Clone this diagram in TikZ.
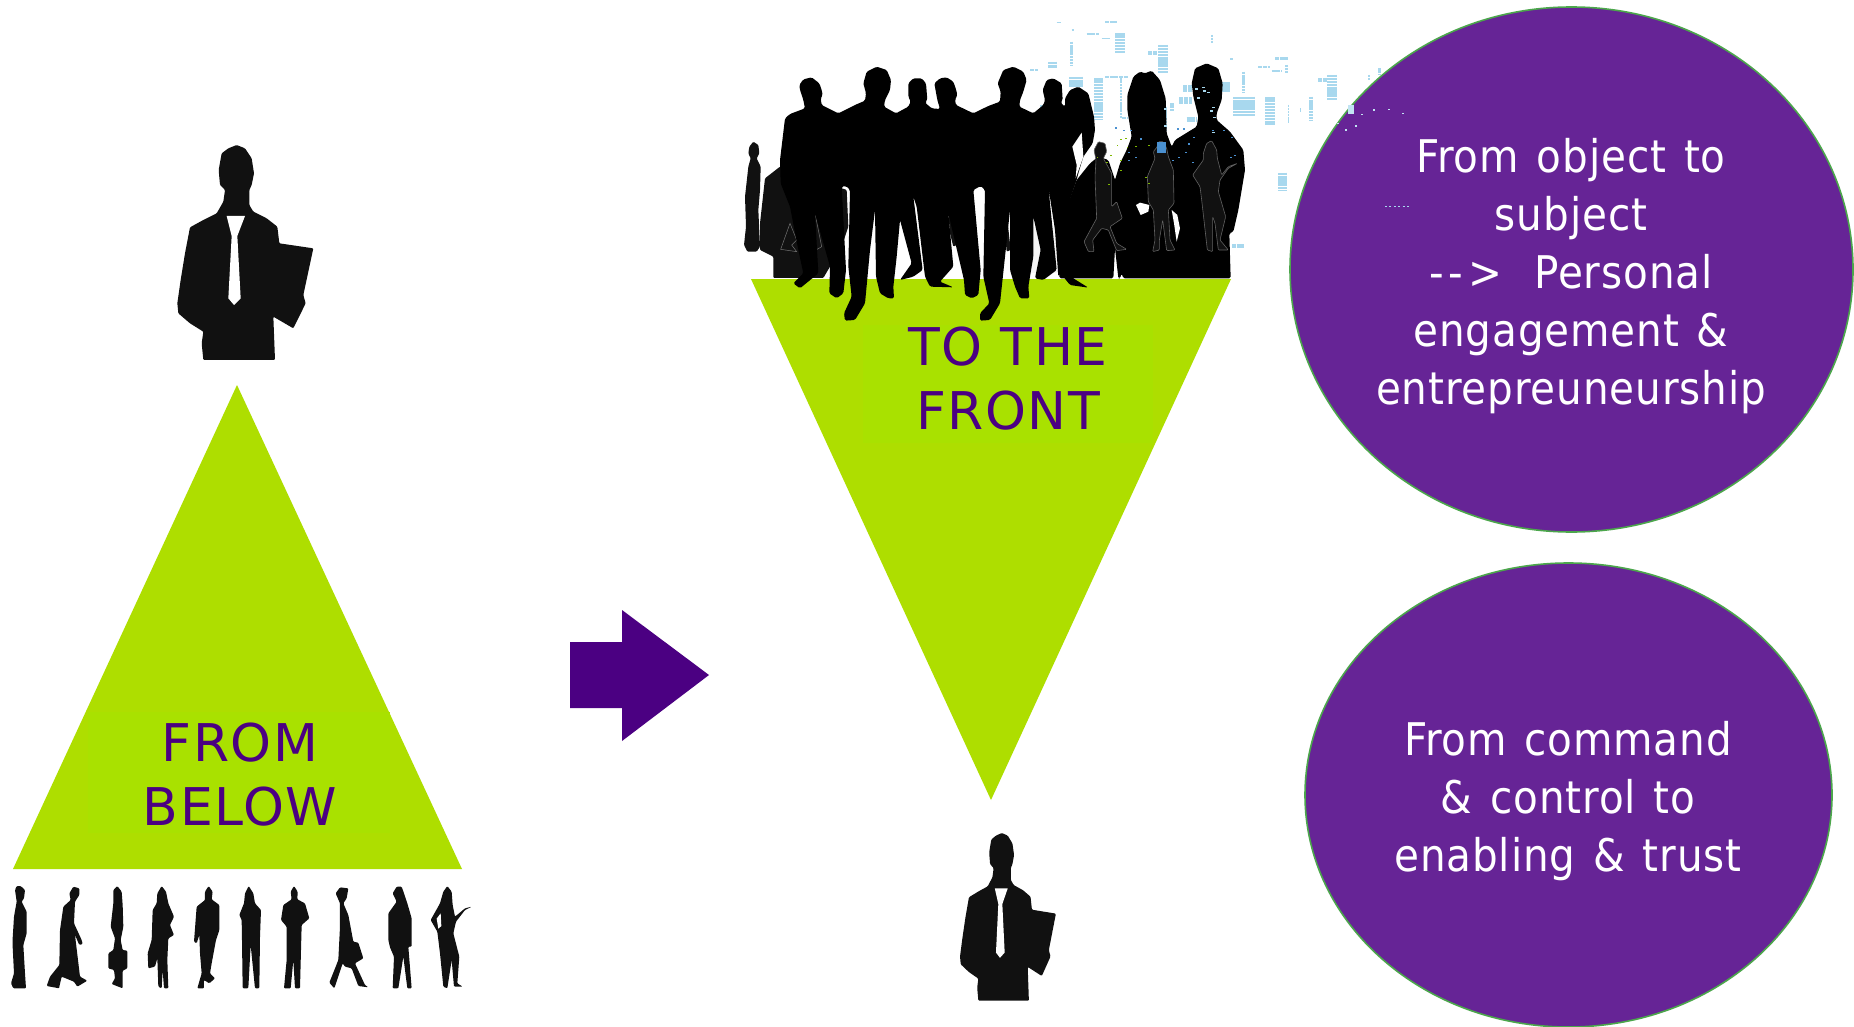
\documentclass[tikz,border=0pt]{standalone}
\usepackage{fontspec}
\setmainfont[LetterSpace=2,WordSpace=1.3]{DejaVu Sans Condensed}
\newfontfamily\trifont[LetterSpace=3]{DejaVu Sans}
\definecolor{limegreen}{HTML}{AEDE00}
\definecolor{limebox}{HTML}{A9E100}
\definecolor{deeppurple}{HTML}{4B0082}
\definecolor{circlepurple}{HTML}{662496}
\definecolor{circleedge}{HTML}{4CA64C}
\definecolor{silhouette}{HTML}{111111}
\definecolor{spkcol}{HTML}{A8D8EE}
\definecolor{spkblue}{HTML}{4A90D0}
\definecolor{spkgreen}{HTML}{7FB800}
\tikzset{
  figfill/.style={fill=silhouette,rounded corners=1pt},
  backblack/.style={fill=black,rounded corners=1.5pt},
  ghost/.style={fill=silhouette,draw=black!62,line width=0.6pt,rounded corners=1pt},
  triangle/.style={fill=limegreen},
  oval/.style={fill=circlepurple,draw=circleedge,line width=1.6pt},
  ovaltext/.style={text=white,align=center,font=\fontsize{45}{58}\selectfont},
  tritext/.style={text=deeppurple,align=center,font=\trifont\fontsize{52}{64}\selectfont},
  zoomsix/.style={shift={(740,50)},scale=1/3},
  zoomseven/.style={shift={(1020,10)},scale=1/3},
  zoomrow/.style={shift={(0,860)},scale=1/3}
}
\newcommand{\bizman}{%
  \fill[figfill] (130,690)--(125,640)--(130,605)--(90,580)--(55,550)--(52,520)--(62,450)--(75,370)--(90,292)--(130,270)--(170,250)--(190,215)--(195,180)--(180,165)--(176,120)--(185,70)--(205,55)--(230,45)--(255,55)--(275,85)--(282,130)--(275,165)--(268,180)--(268,225)--(280,245)--(320,265)--(352,290)--(358,340)--(460,355)--(430,495)--(437,520)--(400,595)--(340,560)--(345,690)--cycle;
  \fill[white] (200,258)--(255,258)--(232,318)--(242,505)--(222,525)--(205,505)--(215,318)--cycle;
}
\begin{document}
\begin{tikzpicture}[x=1pt,y=-1pt]
\useasboundingbox (0,0) rectangle (1854,1027);
\fill[white] (0,0) rectangle (1854,1027);

% background city speckle (zoom-7 coordinates)
\begin{scope}[zoomseven]
\foreach \xa/\ya/\xb/\yb in {110/37/122/40,255/32/290/40,155/58/162/62,200/70/238/76,245/83/270/86,630/145/640/150,765/142/805/150,715/168/750/175,755/180/785/185,895/205/920/215,255/197/325/205,307/320/325/328,490/225/515/245,478/262/515/282,605/215/630/245,636/702/672/714,500/320/530/335,385/122/410/136,30/178/55/184,60/285/80/300}{
  \draw[spkcol,line width={(\yb-\ya)/3},dash pattern=on 4pt off 0.7pt] (\xa,{(\ya+\yb)/2}) -- (\xb,{(\ya+\yb)/2});
}
\foreach \xa/\ya/\xb/\yb in {285/70/315/130,150/95/160/165,85/155/112/175,415/105/445/190,572/75/578/100,795/165/805/190,665/185/675/250,920/195/950/270,1045/195/1050/210,1075/175/1082/195,640/260/705/320,735/262/765/345,803/285/807/340,868/260/880/330,840/295/843/305,773/488/800/542,300/205/307/325,222/205/250/330,148/200/190/230,450/280/462/305,430/290/440/360}{
  \draw[spkcol,line width={(\xb-\xa)/3},dash pattern=on 2.2pt off 0.7pt] ({(\xa+\xb)/2},\ya) -- ({(\xa+\xb)/2},\yb);
}
\fill[black!4] (0,650) rectangle (130,790);
\end{scope}

% green triangles
\fill[triangle] (13,869)--(462,869)--(237,385)--cycle;
\fill[triangle] (751,279)--(1231,279)--(991,800)--cycle;
\fill[limebox] (88,712) rectangle (390,833);
\fill[limebox] (863,325) rectangle (1153,443);

% purple ovals
\draw[oval] (1571.5,269.5) ellipse [x radius=281.5,y radius=262.5];
\draw[oval] (1568.5,795) ellipse [x radius=263.5,y radius=232];

% back figures
\begin{scope}[zoomseven]
\fill[backblack] (170,510)--(210,460)--(235,440)--(265,450)--(285,510)--(300,460)--(320,420)--(335,380)--(322,300)--(322,255)--(340,200)--(360,185)--(375,190)--(395,182)--(420,210)--(437,265)--(440,370)--(455,410)--(465,390)--(530,350)--(535,320)--(520,260)--(515,220)--(525,175)--(560,160)--(595,175)--(608,220)--(605,270)--(590,310)--(590,330)--(630,365)--(670,420)--(675,480)--(655,600)--(640,665)--(628,670)--(632,805)--(310,805)--(305,790)--(300,805)--(295,805)--(285,715)--(280,805)--(118,805)--(122,640)--cycle;
\fill[white] (348,585)--(360,578)--(388,585)--(385,605)--(362,615)--cycle;
\fill[white] (455,600)--(472,615)--(480,655)--(470,695)--(462,640)--cycle;
\end{scope}
\begin{scope}[zoomsix]
\fill[figfill] (60,520)--(75,385)--(120,350)--(320,420)--(325,530)--(305,590)--(250,684)--(100,684)--(100,620)--(60,600)--cycle;
\draw[black!55,line width=0.5pt] (122,598)--(150,520)--(170,570)--(155,585)--(170,605)--cycle (225,490)--(245,590)--(228,600);
\fill[figfill] (28,290)--(40,275)--(55,285)--(58,310)--(50,325)--(62,350)--(60,420)--(55,480)--(60,590)--(50,605)--(22,605)--(12,585)--(18,530)--(15,440)--(25,350)--(32,325)--(25,310)--cycle;
\fill[figfill] (625,490)--(640,510)--(650,585)--(640,590)--(630,550)--cycle;
\fill[figfill] (800,490)--(812,600)--(800,605)--(795,550)--cycle;
% front group
\fill[backblack] (135,205)--(150,192)--(195,175)--(190,150)--(180,120)--(178,105)--(190,88)--(215,82)--(238,100)--(245,120)--(248,135)--(242,145)--(245,165)--(295,190)--(345,165)--(375,152)--(378,130)--(370,100)--(380,65)--(410,50)--(440,60)--(453,90)--(450,120)--(435,150)--(432,170)--(468,190)--(505,170)--(512,155)--(505,140)--(505,100)--(520,85)--(545,85)--(558,100)--(562,150)--(555,158)--(575,175)--(600,177)--(592,150)--(583,100)--(600,85)--(620,82)--(640,95)--(648,118)--(652,135)--(645,150)--(648,165)--(700,190)--(745,168)--(780,155)--(782,125)--(773,100)--(790,60)--(820,50)--(850,65)--(860,90)--(850,125)--(840,150)--(838,170)--(880,190)--(910,165)--(915,150)--(908,120)--(920,90)--(940,85)--(965,100)--(968,150)--(962,158)--(975,170)--(975,145)--(990,120)--(1015,110)--(1045,130)--(1062,200)--(1065,240)--(1058,280)--(1030,320)--(1015,370)--(1010,390)--(965,520)--(960,650)--(1000,685)--(1045,713)--(990,705)--(962,670)--(955,680)--(945,540)--(925,410)--(950,660)--(910,690)--(885,685)--(902,600)--(880,500)--(880,620)--(865,710)--(868,745)--(840,745)--(825,710)--(810,660)--(810,480)--(780,760)--(750,810)--(720,812)--(720,790)--(748,760)--(730,680)--(735,420)--(722,408)--(700,420)--(722,660)--(715,735)--(695,745)--(675,735)--(672,690)--(625,490)--(640,650)--(600,695)--(640,712)--(570,710)--(555,680)--(530,470)--(520,440)--(548,660)--(520,680)--(480,690)--(515,640)--(480,510)--(470,620)--(460,710)--(462,745)--(445,745)--(420,730)--(408,680)--(405,480)--(390,600)--(375,760)--(345,810)--(315,812)--(312,790)--(335,740)--(325,650)--(330,420)--(318,408)--(305,410)--(318,660)--(310,730)--(290,745)--(268,730)--(270,650)--(225,490)--(235,670)--(180,715)--(160,700)--(190,670)--(175,600)--(150,470)--(122,400)--(120,330)--cycle;
\end{scope}
\begin{scope}[zoomseven]
\fill[white] (185,368)--(157,410)--(170,465)--(167,505)--(190,440)--cycle;
% small grey figures
\filldraw[ghost] (222,420)--(235,395)--(255,400)--(260,425)--(250,445)--(275,490)--(275,590)--(290,575)--(307,625)--(270,650)--(290,700)--(320,718)--(290,722)--(265,660)--(245,655)--(218,690)--(222,725)--(205,725)--(192,695)--(230,625)--(225,500)--(228,450)--cycle;
\filldraw[ghost] (400,425)--(412,410)--(415,395)--(430,395)--(440,415)--(445,440)--(460,480)--(462,580)--(445,600)--(450,690)--(465,720)--(440,722)--(428,630)--(418,690)--(418,720)--(398,725)--(405,690)--(400,600)--(385,575)--(382,500)--(405,445)--cycle;
\filldraw[ghost] (550,430)--(560,400)--(575,392)--(590,420)--(592,445)--(605,495)--(625,470)--(652,460)--(625,475)--(600,510)--(595,545)--(617,620)--(600,690)--(625,720)--(595,720)--(585,640)--(578,620)--(578,725)--(562,720)--(545,570)--(540,530)--(518,495)--(550,450)--cycle;
% speckles over the figures
\fill[spkblue] (410,395) rectangle (438,430);
\foreach \px/\py in {285/352,310/360,330/360,360/385,325/425,325/450,455/450,475/440,495/425,505/400,520/380,575/360,610/360,632/380,630/440,642/435,515/455,345/440,470/355,490/355}{
  \fill[spkblue] (\px,\py) rectangle ++(6,4);
}
\foreach \px/\py in {525/235,545/230,560/245,530/262,575/290,580/320,550/240,570/300,575/365,432/295,432/345}{
  \fill[spkcol] (\px,\py) rectangle ++(9,5);
}
\foreach \px/\py in {300/388,315/385,290/405,320/410,270/435,300/450,385/405,375/500,385/520,230/440,258/455,265/522,345/408,300/480}{
  \fill[spkgreen] (\px,\py) rectangle ++(5,3);
}
% speckles that fall on the oval
\fill[spkcol!70!white] (985,285) rectangle (1002,312);
\foreach \px/\py in {1060/298,1105/296,1145/308,1022/312,975/358,1005/346,950/338}{
  \fill[spkcol!70!white] (\px,\py) rectangle ++(6,4);
}
\draw[spkcol,line width=1.5pt,dash pattern=on 2pt off 2.4pt] (1095,590) -- (1170,590);
\end{scope}

% people in the bottom row
\begin{scope}[zoomrow]
\fill[figfill] (45,90)--(50,78)--(62,78)--(75,90)--(72,115)--(65,125)--(80,155)--(80,220)--(70,255)--(75,340)--(78,385)--(40,385)--(33,370)--(42,340)--(38,260)--(38,235)--(42,170)--(50,125)--(48,110)--cycle;
\fill[figfill] (208,100)--(220,80)--(238,85)--(238,105)--(225,125)--(222,190)--(245,240)--(248,252)--(238,255)--(225,225)--(240,350)--(262,362)--(232,380)--(222,365)--(185,350)--(178,380)--(178,385)--(140,378)--(150,350)--(178,315)--(180,210)--(190,140)--(212,120)--cycle;
\fill[figfill] (340,90)--(352,78)--(365,95)--(368,135)--(370,200)--(362,240)--(368,270)--(382,272)--(382,325)--(368,332)--(368,370)--(368,385)--(335,372)--(345,355)--(342,330)--(325,325)--(325,280)--(340,270)--(345,235)--(332,200)--(340,130)--(340,110)--cycle;
\fill[figfill] (472,100)--(485,78)--(498,95)--(505,130)--(522,170)--(510,195)--(522,225)--(505,235)--(502,300)--(505,385)--(492,385)--(488,330)--(485,385)--(475,380)--(472,295)--(465,320)--(445,325)--(443,280)--(455,240)--(458,150)--(470,130)--cycle;
\fill[figfill] (615,95)--(626,78)--(638,95)--(635,118)--(658,135)--(658,210)--(648,240)--(635,310)--(630,340)--(645,355)--(628,370)--(612,360)--(612,385)--(592,385)--(605,340)--(600,280)--(598,225)--(590,250)--(582,245)--(590,140)--(615,120)--cycle;
\fill[figfill] (735,100)--(746,78)--(760,100)--(765,130)--(783,150)--(780,230)--(778,385)--(765,385)--(752,255)--(745,385)--(728,385)--(726,240)--(725,180)--(718,165)--(732,130)--cycle;
\fill[figfill] (872,95)--(882,78)--(893,95)--(892,118)--(915,130)--(928,175)--(905,195)--(903,270)--(900,385)--(885,385)--(880,300)--(872,385)--(852,385)--(860,300)--(860,200)--(843,180)--(850,135)--(875,118)--cycle;
\fill[figfill] (1007,100)--(1020,82)--(1045,85)--(1040,115)--(1030,130)--(1045,165)--(1060,245)--(1075,248)--(1090,295)--(1065,310)--(1095,375)--(1105,382)--(1075,378)--(1055,325)--(1035,320)--(1028,310)--(1003,385)--(988,368)--(1015,300)--(1020,200)--(1020,130)--cycle;
\fill[figfill] (1178,100)--(1190,80)--(1205,80)--(1212,100)--(1222,130)--(1235,175)--(1235,260)--(1225,260)--(1235,385)--(1222,385)--(1210,290)--(1195,385)--(1178,385)--(1182,290)--(1170,262)--(1165,240)--(1165,160)--(1190,125)--cycle;
\fill[figfill] (1330,95)--(1342,78)--(1355,95)--(1358,135)--(1365,170)--(1395,145)--(1415,140)--(1395,150)--(1368,185)--(1360,220)--(1378,290)--(1372,370)--(1388,380)--(1362,380)--(1355,300)--(1342,385)--(1330,380)--(1320,280)--(1312,215)--(1292,180)--(1320,130)--cycle;
\fill[white] (1310,176)--(1322,160)--(1324,198)--(1315,206)--cycle;
\end{scope}

% the two single figures
\begin{scope}[shift={(160,130)},scale=1/3] \bizman \end{scope}
\begin{scope}[shift={(947.8,821.3)},xscale=0.235,yscale=0.26] \bizman \end{scope}

% arrow
\fill[deeppurple] (570,642)--(622,642)--(622,610)--(709,675)--(622,741)--(622,708)--(570,708)--cycle;

% labels
\node[tritext] (frombelow) at (240,775) {FROM\\BELOW};
\node[tritext] (tothefront) at (1008,379) {TO THE\\FRONT};
\node[ovaltext] (objecttext) at (1571,276) {From object to\\subject\\-\kern5pt-\kern5pt>\kern32pt Personal\\engagement \&\\entrepreuneurship};
\node[ovaltext] (commandtext) at (1568,801) {From command\\\& control to\\enabling \& trust};
\end{tikzpicture}
\end{document}
